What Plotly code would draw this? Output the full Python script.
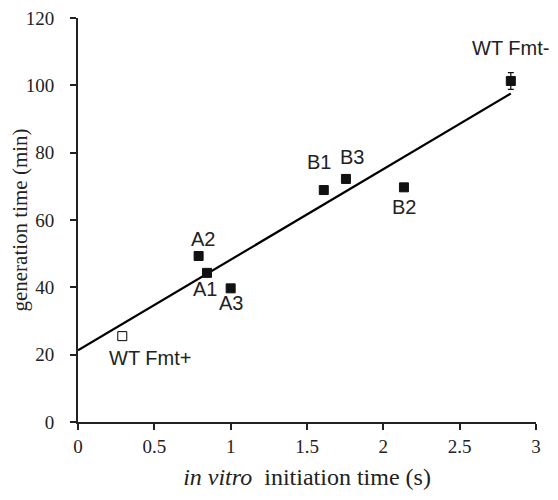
import plotly.graph_objects as go

# data
labels = ["WT Fmt+", "A2", "A1", "A3", "B1", "B3", "B2", "WT Fmt-"]
init_time = [0.29, 0.79, 0.845, 1.0, 1.61, 1.755, 2.135, 2.835]
gen_time = [25.5, 49.3, 44.3, 39.7, 68.9, 72.2, 69.7, 101.3]
gen_err = [0, 0, 0, 0, 0, 1.2, 0, 2.5]
filled = [False, True, True, True, True, True, True, True]

fit_x = [0.0, 2.835]
fit_intercept = 21.3
fit_slope = 26.9

label_x = [0.47, 0.819, 0.832, 1.0, 1.578, 1.794, 2.135, 2.83]
label_y = [18.9, 54.4, 39.6, 35.2, 77.2, 78.6, 63.8, 111.1]

x_ticks = [0, 0.5, 1, 1.5, 2, 2.5, 3]
x_ticktext = ["0", "0.5", "1", "1.5", "2", "2.5", "3"]
y_ticks = [0, 20, 40, 60, 80, 100, 120]

fig = go.Figure()

fit_y = [fit_intercept + fit_slope * v for v in fit_x]
fig.add_trace(go.Scatter(x=fit_x, y=fit_y, mode="lines",
                         line=dict(color="black", width=2.2), showlegend=False))

open_x = [x for x, f in zip(init_time, filled) if not f]
open_y = [y for y, f in zip(gen_time, filled) if not f]
fig.add_trace(go.Scatter(
    x=open_x, y=open_y, mode="markers",
    marker=dict(symbol="square", size=9, color="white",
                line=dict(color="black", width=1)),
    showlegend=False))

fill_x = [x for x, f in zip(init_time, filled) if f]
fill_y = [y for y, f in zip(gen_time, filled) if f]
fill_e = [e for e, f in zip(gen_err, filled) if f]
fig.add_trace(go.Scatter(
    x=fill_x, y=fill_y, mode="markers",
    marker=dict(symbol="square", size=9, color="#111",
                line=dict(color="#111", width=1)),
    error_y=dict(type="data", array=fill_e, visible=True, color="#111",
                 thickness=1.2, width=3),
    showlegend=False))

for t, lx, ly in zip(labels, label_x, label_y):
    fig.add_annotation(x=lx, y=ly, text=t, showarrow=False,
                       xanchor="center", yanchor="middle",
                       font=dict(family="Liberation Sans, Arial", size=20, color="#222"))

fig.update_layout(
    width=558, height=500,
    margin=dict(l=70, r=30, t=10, b=86),
    plot_bgcolor="white", paper_bgcolor="white",
    font=dict(family="Liberation Serif, Times New Roman", size=19, color="#222"),
    xaxis=dict(range=[0, 3], tickvals=x_ticks, ticktext=x_ticktext,
               showgrid=False, zeroline=False, showline=True, linecolor="#222",
               linewidth=2, ticks="outside", ticklen=6, tickwidth=2, tickcolor="#222",
               automargin=False, ticklabeloverflow="allow",
               title=dict(text="<i>in vitro</i>  initiation time (s)",
                          font=dict(size=24), standoff=12)),
    yaxis=dict(range=[0, 120], tickvals=y_ticks,
               showgrid=False, zeroline=False, showline=True, linecolor="#222",
               linewidth=2, ticks="outside", ticklen=6, tickwidth=2, tickcolor="#222",
               automargin=False, ticklabelstandoff=12, ticklabeloverflow="allow",
               title=dict(text="generation time (min)", font=dict(size=21), standoff=0)),
)

fig.write_html("out.html")
